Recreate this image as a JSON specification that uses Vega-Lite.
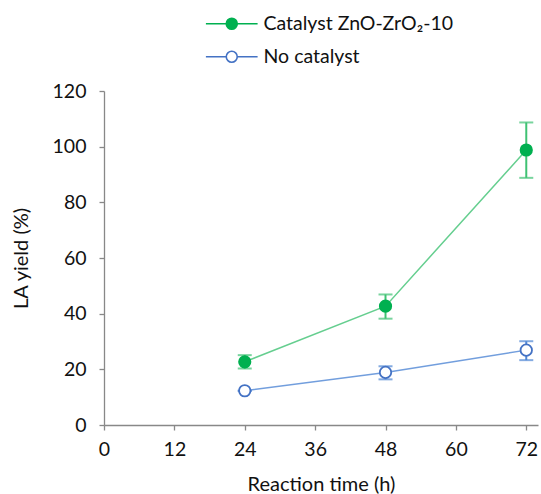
{
  "$schema": "https://vega.github.io/schema/vega-lite/v6.json",
  "width": 434,
  "height": 334,
  "autosize": "none",
  "padding": {"left": 104, "top": 91, "right": 3, "bottom": 69},
  "background": "white",
  "config": {
    "view": {"stroke": null},
    "font": "Lato",
    "axis": {
      "grid": false,
      "domainColor": "#888888",
      "domainWidth": 1.3,
      "tickColor": "#888888",
      "tickWidth": 1.3,
      "tickSize": 5,
      "labelFont": "Lato",
      "labelFontSize": 19.5,
      "labelColor": "#111111",
      "labelFlush": false,
      "titleFont": "Lato",
      "titleFontSize": 20,
      "titleFontWeight": "normal",
      "titleColor": "#111111"
    }
  },
  "data": {
    "values": [
      {"series": "Catalyst ZnO-ZrO₂-10", "time": 24, "yield": 22.7, "lo": 20.3, "hi": 25.1},
      {"series": "Catalyst ZnO-ZrO₂-10", "time": 48, "yield": 42.7, "lo": 38.2, "hi": 46.9},
      {"series": "Catalyst ZnO-ZrO₂-10", "time": 72, "yield": 98.8, "lo": 88.8, "hi": 108.7},
      {"series": "No catalyst", "time": 24, "yield": 12.3, "lo": 12.3, "hi": 12.3},
      {"series": "No catalyst", "time": 48, "yield": 18.9, "lo": 16.4, "hi": 21.1},
      {"series": "No catalyst", "time": 72, "yield": 26.9, "lo": 23.3, "hi": 30.1}
    ]
  },
  "encoding": {
    "x": {
      "field": "time", "type": "quantitative",
      "scale": {"domain": [0, 74], "nice": false, "zero": false, "padding": 0},
      "axis": {"values": [0, 12, 24, 36, 48, 60, 72], "title": "Reaction time (h)", "labelPadding": 10, "titlePadding": 16}
    }
  },
  "layer": [
    {
      "mark": {"type": "line", "strokeWidth": 1.5, "opacity": 0.8},
      "encoding": {
        "y": {
          "field": "yield", "type": "quantitative",
          "scale": {"domain": [0, 120], "nice": false, "padding": 0},
          "axis": {"values": [0, 20, 40, 60, 80, 100, 120], "title": "LA yield (%)", "labelPadding": 13, "titlePadding": 21}
        },
        "color": {
          "field": "series", "type": "nominal",
          "scale": {"domain": ["Catalyst ZnO-ZrO₂-10", "No catalyst"], "range": ["#3fc273", "#4f86d4"]},
          "legend": null
        }
      }
    },
    {
      "mark": {"type": "rule", "strokeWidth": 2},
      "encoding": {
        "y": {"field": "lo", "type": "quantitative"},
        "y2": {"field": "hi"},
        "color": {"field": "series", "type": "nominal", "legend": null}
      }
    },
    {
      "mark": {"type": "tick", "orient": "horizontal", "size": 14, "thickness": 2},
      "encoding": {
        "y": {"field": "lo", "type": "quantitative"},
        "color": {"field": "series", "type": "nominal", "legend": null}
      }
    },
    {
      "mark": {"type": "tick", "orient": "horizontal", "size": 14, "thickness": 2},
      "encoding": {
        "y": {"field": "hi", "type": "quantitative"},
        "color": {"field": "series", "type": "nominal", "legend": null}
      }
    },
    {
      "mark": {"type": "point", "filled": false, "opacity": 1, "strokeWidth": 1.8, "size": 130},
      "encoding": {
        "y": {"field": "yield", "type": "quantitative"},
        "stroke": {
          "field": "series", "type": "nominal",
          "scale": {"domain": ["Catalyst ZnO-ZrO₂-10", "No catalyst"], "range": ["#00b050", "#4472c4"]},
          "legend": {
            "title": null,
            "orient": "none",
            "legendX": 118,
            "legendY": -77,
            "symbolType": "M-4.7,0L-1,0M1,0L4.7,0M-1,0A1,1 0 1,0 1,0A1,1 0 1,0 -1,0Z",
            "symbolSize": 121,
            "symbolStrokeWidth": 1.6,
            "labelFont": "Lato",
            "labelFontSize": 19.5,
            "labelColor": "#111111",
            "labelOffset": 22,
            "rowPadding": 12,
            "labelLimit": 400
          }
        },
        "fill": {
          "field": "series", "type": "nominal",
          "scale": {"domain": ["Catalyst ZnO-ZrO₂-10", "No catalyst"], "range": ["#00b050", "#ffffff"]}
        }
      }
    }
  ],
  "resolve": {"legend": {"color": "independent"}}
}
